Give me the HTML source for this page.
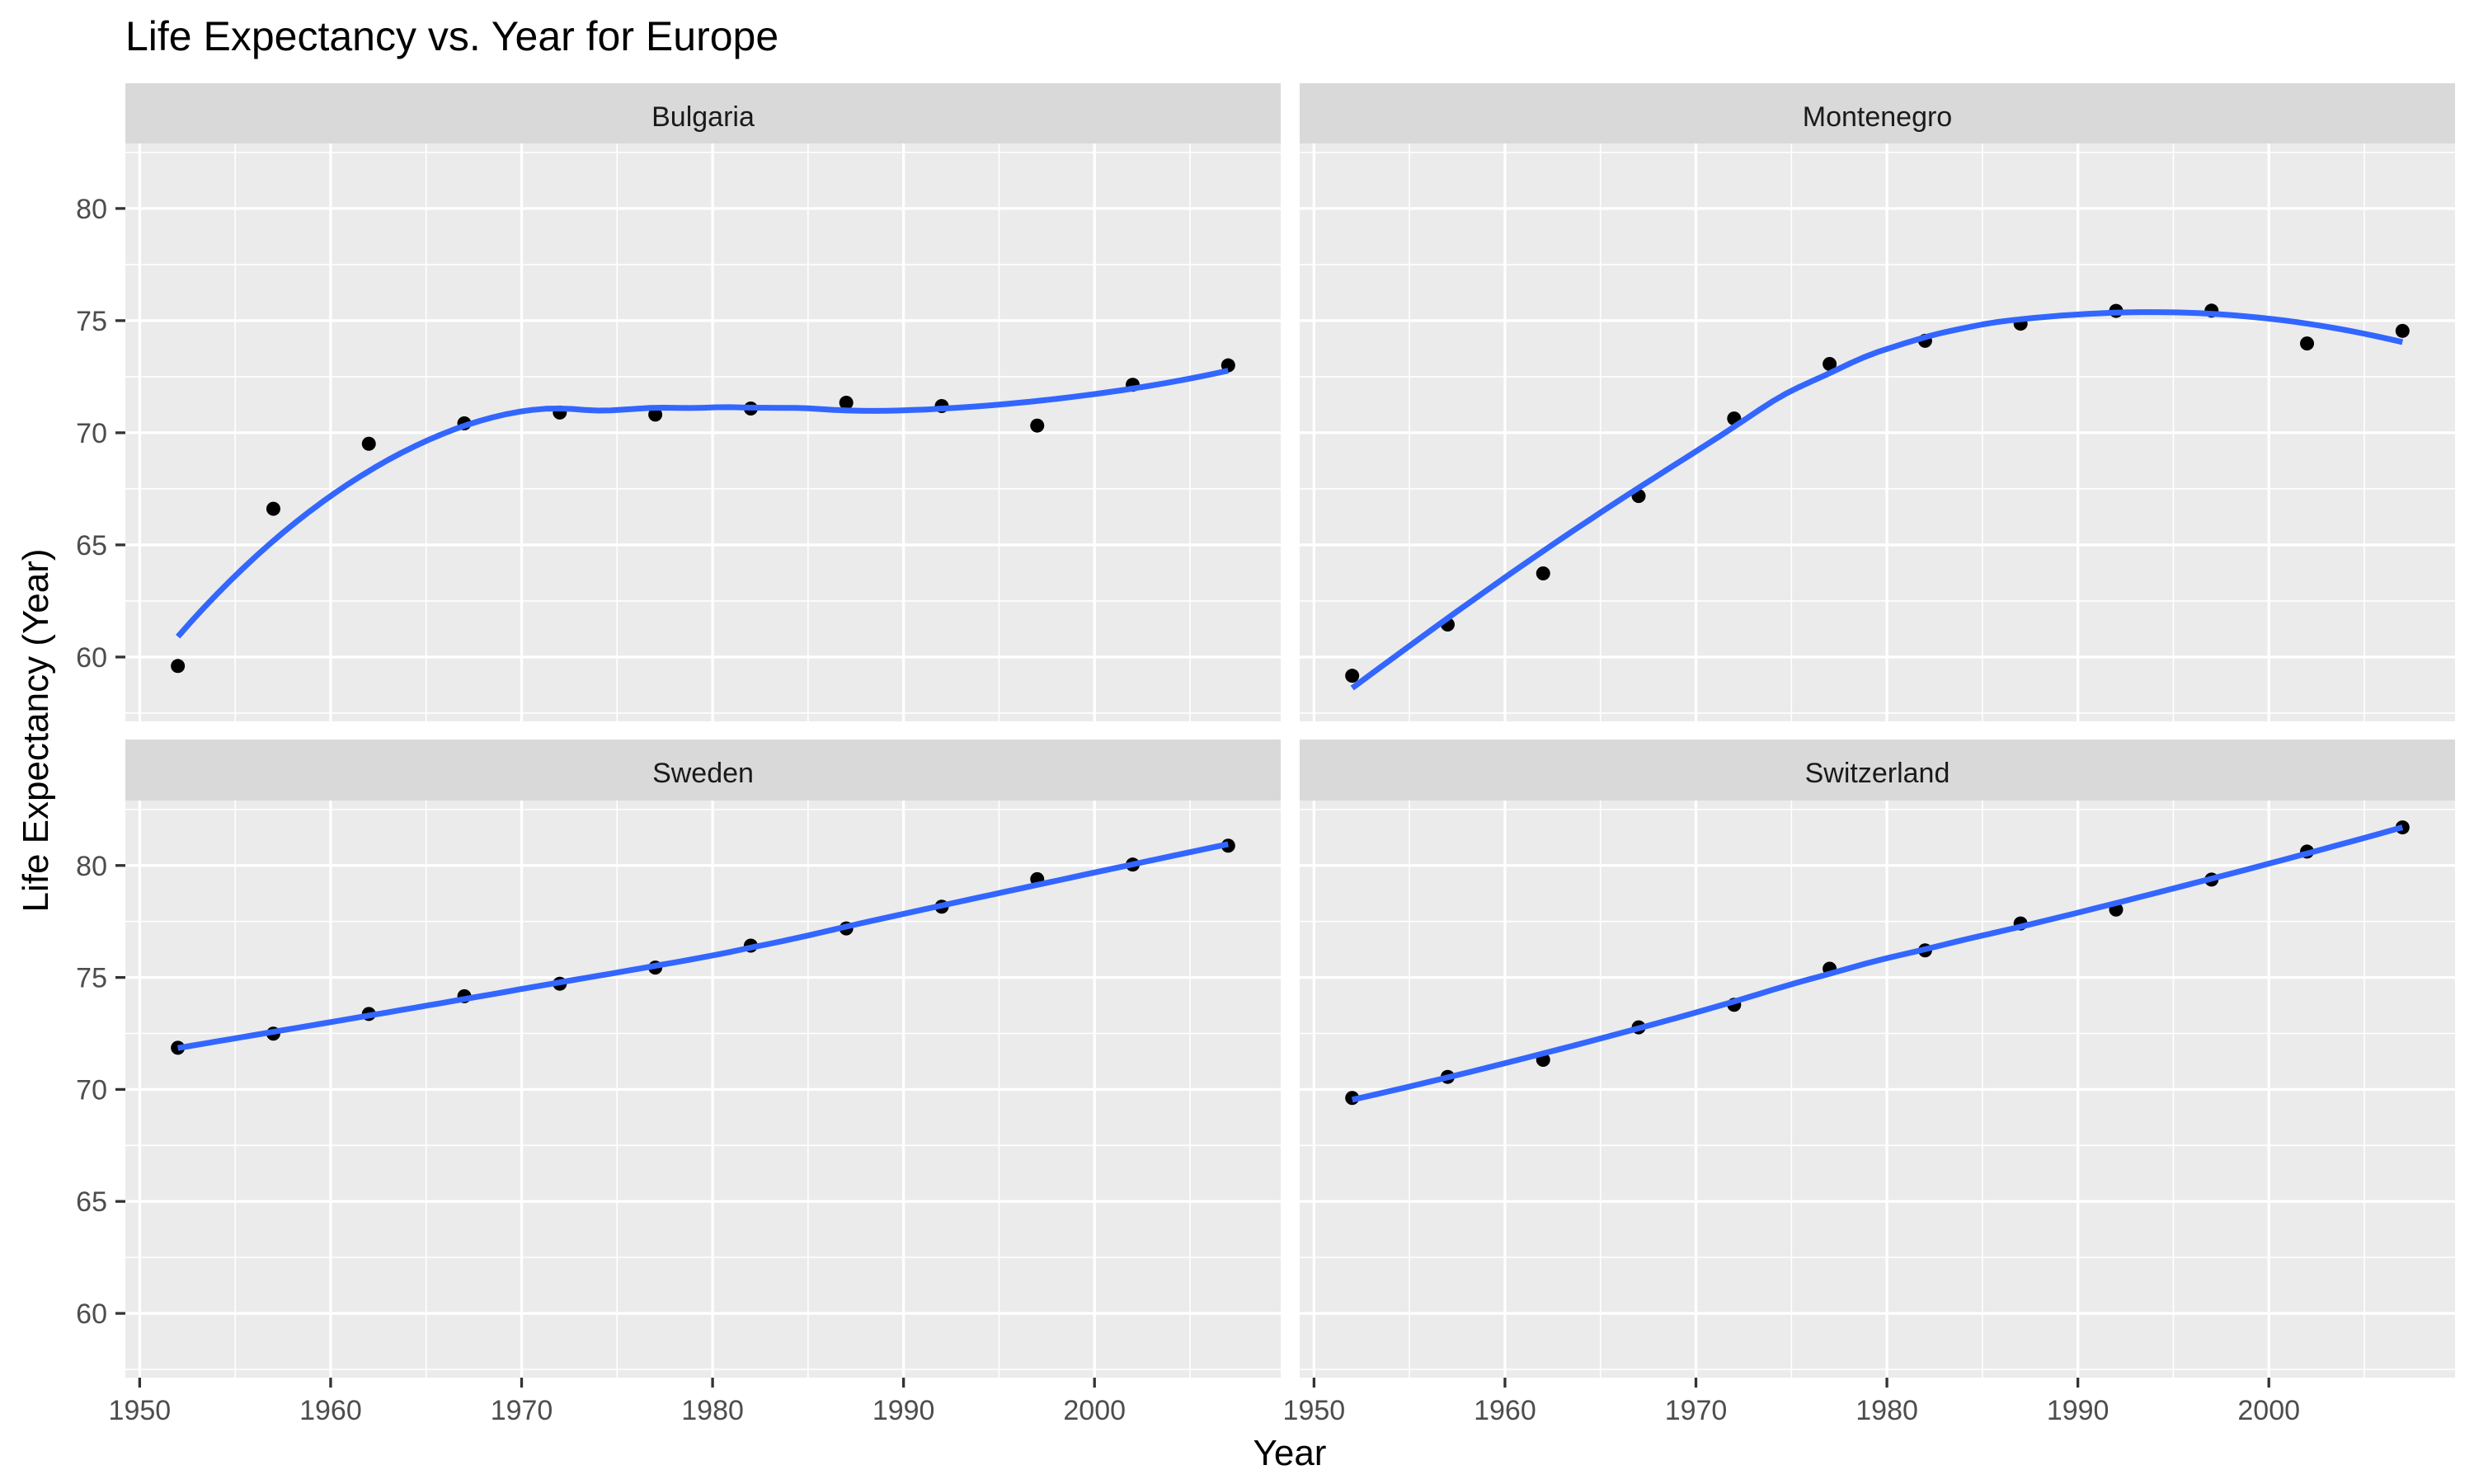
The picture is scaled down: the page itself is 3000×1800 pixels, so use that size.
<!DOCTYPE html>
<html><head><meta charset="utf-8"><style>
html,body{margin:0;padding:0;background:#fff}
svg{display:block;font-family:"Liberation Sans",Arial,sans-serif}
</style></head><body>
<svg id="chart" width="3000" height="1800" viewBox="0 0 3000 1800" xmlns="http://www.w3.org/2000/svg">
<text x="152" y="61" font-size="50" fill="#000">Life Expectancy vs. Year for Europe</text>
<text x="1564" y="1777" font-size="44" text-anchor="middle" fill="#000">Year</text>
<text transform="translate(58,886) rotate(-90)" font-size="44" text-anchor="middle" fill="#000">Life Expectancy (Year)</text>
<g id="panels"></g>
</svg>
<script>
const years = [1952,1957,1962,1967,1972,1977,1982,1987,1992,1997,2002,2007];
const countries = ["Bulgaria","Montenegro","Sweden","Switzerland"];
const bulgaria = [59.6,66.61,69.51,70.42,70.9,70.81,71.08,71.34,71.19,70.32,72.14,73.005];
const montenegro = [59.164,61.448,63.728,67.178,70.636,73.066,74.101,74.865,75.435,75.445,73.981,74.543];
const sweden = [71.86,72.49,73.37,74.16,74.72,75.44,76.42,77.19,78.16,79.39,80.04,80.884];
const switzerland = [69.62,70.56,71.32,72.77,73.78,75.39,76.21,77.41,78.03,79.37,80.62,81.701];
const xTicks = [1950,1960,1970,1980,1990,2000];
const yTicks = [60,65,70,75,80];

const series = [bulgaria, montenegro, sweden, switzerland];
const NS = "http://www.w3.org/2000/svg";
const root = document.getElementById('panels');
function mk(tag, attrs, parent){const e=document.createElementNS(NS,tag);for(const k in attrs)e.setAttribute(k,attrs[k]);(parent||root).appendChild(e);return e;}

const xMin=1949.25, xMax=2009.75, yMin=57.13, yMax=82.9;
const cols=[[152,1553],[1576,2977]];
const rows=[{strip:101,top:174,bottom:875},{strip:897,top:971,bottom:1671}];

function loess(xs, ys, x0){
  const n=xs.length, q=10;
  const d=xs.map(x=>Math.abs(x-x0)); const ds=[...d].sort((a,b)=>a-b); const h=ds[q-1]*1.0000001;
  const w=d.map(v=>{const u=v/h;return u<1?Math.pow(1-u*u*u,3):0;});
  let S=[[0,0,0],[0,0,0],[0,0,0]], B=[0,0,0];
  for(let i=0;i<n;i++){const t=(xs[i]-x0)/10;const v=[1,t,t*t];
    for(let a=0;a<3;a++){B[a]+=w[i]*v[a]*ys[i];for(let b=0;b<3;b++)S[a][b]+=w[i]*v[a]*v[b];}}
  const M=S.map((r,i)=>[...r,B[i]]);
  for(let c=0;c<3;c++){let p=c;for(let r=c+1;r<3;r++)if(Math.abs(M[r][c])>Math.abs(M[p][c]))p=r;[M[c],M[p]]=[M[p],M[c]];
    for(let r=0;r<3;r++){if(r===c)continue;const f=M[r][c]/M[c][c];for(let k=c;k<4;k++)M[r][k]-=f*M[c][k];}}
  return M[0][3]/M[0][0];
}

countries.forEach((name,idx)=>{
  const c=cols[idx%2], r=rows[Math.floor(idx/2)];
  const sx=v=>c[0]+(v-xMin)/(xMax-xMin)*(c[1]-c[0]);
  const sy=v=>r.bottom-(v-yMin)/(yMax-yMin)*(r.bottom-r.top);
  const g=mk('g',{});
  
  
  const strip=mk('rect',{x:c[0],y:r.strip,width:c[1]-c[0],height:r.top-r.strip,fill:'#d9d9d9'},g);
  
  
  const st=mk('text',{x:(c[0]+c[1])/2,y:r.strip+52,'font-size':34,'text-anchor':'middle',fill:'#1a1a1a'},g);
  st.textContent=name;
  
  
  const bg=mk('rect',{x:c[0],y:r.top,width:c[1]-c[0],height:r.bottom-r.top,fill:'#ebebeb'},g);
  
  
  for(let v=1945;v<=2015;v+=10){if(v<xMin||v>xMax)continue;mk('line',{x1:sx(v),x2:sx(v),y1:r.top,y2:r.bottom,stroke:'#fff','stroke-width':1.6},g);}
  for(let v=57.5;v<=85;v+=5){if(v<yMin||v>yMax)continue;mk('line',{x1:c[0],x2:c[1],y1:sy(v),y2:sy(v),stroke:'#fff','stroke-width':1.6},g);}
  xTicks.forEach(v=>{const l=mk('line',{x1:sx(v),x2:sx(v),y1:r.top,y2:r.bottom,stroke:'#fff','stroke-width':3.3},g);
    });
  yTicks.forEach(v=>{const l=mk('line',{x1:c[0],x2:c[1],y1:sy(v),y2:sy(v),stroke:'#fff','stroke-width':3.3},g);
    });
  if(idx%2===0){yTicks.forEach(v=>{
    mk('line',{x1:c[0]-12,x2:c[0],y1:sy(v),y2:sy(v),stroke:'#333','stroke-width':3.3},g);
    const t=mk('text',{x:c[0]-22,y:sy(v)+12,'font-size':34,'text-anchor':'end',fill:'#4d4d4d'},g);
    t.textContent=v;
    
    });}
  if(idx>=2){xTicks.forEach(v=>{
    mk('line',{x1:sx(v),x2:sx(v),y1:r.bottom,y2:r.bottom+12,stroke:'#333','stroke-width':3.3},g);
    const t=mk('text',{x:sx(v),y:r.bottom+51,'font-size':34,'text-anchor':'middle',fill:'#4d4d4d'},g);
    t.textContent=v;
    
    });}
  const ys=series[idx];
  years.forEach((yr,i)=>{const p=mk('circle',{cx:sx(yr),cy:sy(ys[i]),r:8.5,fill:'#000'},g);
    
    });
  let d='';const N=80;
  for(let k=0;k<=N;k++){const x0=years[0]+(years[years.length-1]-years[0])*k/N;const y0=loess(years,ys,x0);
    d+=(k?'L':'M')+sx(x0).toFixed(1)+','+sy(y0).toFixed(1);}
  const path=mk('path',{d:d,fill:'none',stroke:'#3366ff','stroke-width':7,'stroke-linejoin':'round'},g);
  
  
});
</script>
</body></html>
